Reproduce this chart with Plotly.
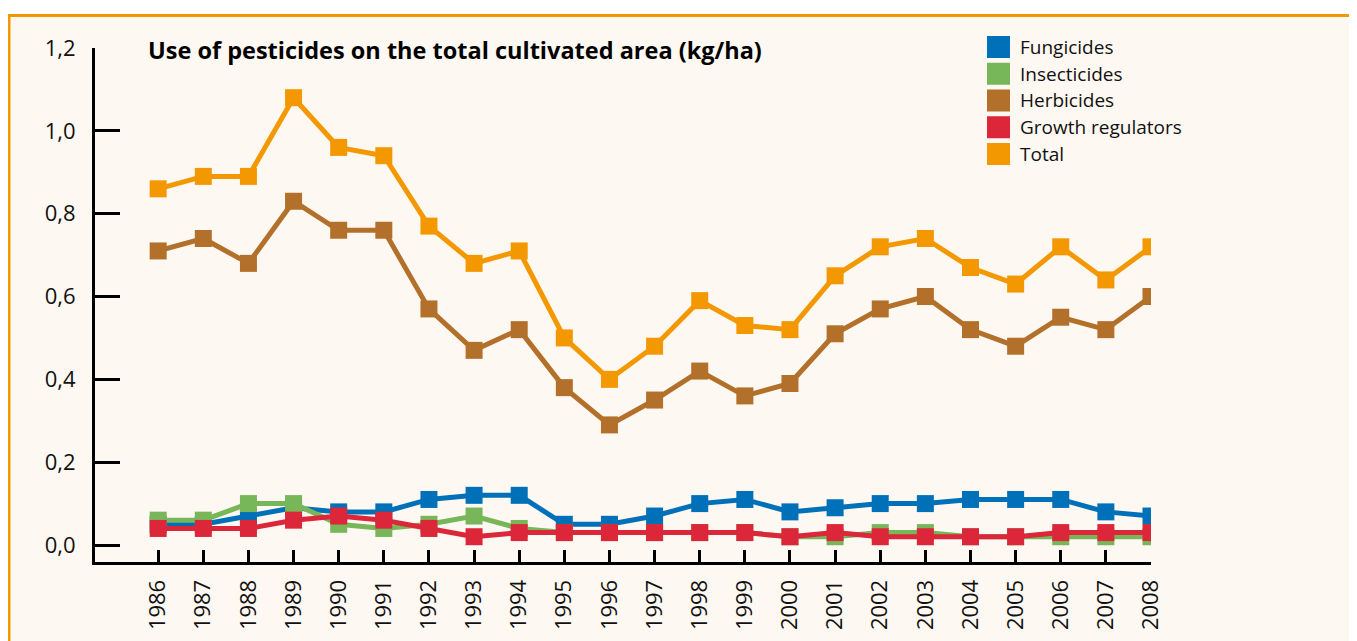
import plotly.graph_objects as go

years = list(range(1986, 2009))
year_labels = [str(y) for y in years]

fungicides = [0.05, 0.05, 0.07, 0.09, 0.08, 0.08, 0.11, 0.12, 0.12, 0.05, 0.05, 0.07,
              0.10, 0.11, 0.08, 0.09, 0.10, 0.10, 0.11, 0.11, 0.11, 0.08, 0.07]
insecticides = [0.06, 0.06, 0.10, 0.10, 0.05, 0.04, 0.05, 0.07, 0.04, 0.03, 0.03, 0.03,
                0.03, 0.03, 0.02, 0.02, 0.03, 0.03, 0.02, 0.02, 0.02, 0.02, 0.02]
herbicides = [0.71, 0.74, 0.68, 0.83, 0.76, 0.76, 0.57, 0.47, 0.52, 0.38, 0.29, 0.35,
              0.42, 0.36, 0.39, 0.51, 0.57, 0.60, 0.52, 0.48, 0.55, 0.52, 0.60]
growth_regulators = [0.04, 0.04, 0.04, 0.06, 0.07, 0.06, 0.04, 0.02, 0.03, 0.03, 0.03, 0.03,
                     0.03, 0.03, 0.02, 0.03, 0.02, 0.02, 0.02, 0.02, 0.03, 0.03, 0.03]
total = [0.86, 0.89, 0.89, 1.08, 0.96, 0.94, 0.77, 0.68, 0.71, 0.50, 0.40, 0.48,
         0.59, 0.53, 0.52, 0.65, 0.72, 0.74, 0.67, 0.63, 0.72, 0.64, 0.72]

series_names = ["Fungicides", "Insecticides", "Herbicides", "Growth regulators", "Total"]
series_values = [fungicides, insecticides, herbicides, growth_regulators, total]
series_colors = ["#0071b8", "#78b65a", "#b3702b", "#dc2639", "#f39800"]

y_ticks = [0.0, 0.2, 0.4, 0.6, 0.8, 1.0, 1.2]
title_text = "Use of pesticides on the total cultivated area (kg/ha)"

W, H = 1357, 641
OFF = 8  # page body margin offset
L, R, T, B = 95 - OFF, 1151 - OFF, 48 - OFF, 562 - OFF
FONT = "Open Sans"

def px_x(p):
    return (p - OFF - L) / (R - L)

def px_y(p):
    return (B - (p - OFF)) / (B - T)

fig = go.Figure()
for name, vals, col in zip(series_names, series_values, series_colors):
    fig.add_trace(go.Scatter(
        x=years, y=vals, name=name, mode="lines+markers",
        line=dict(color=col, width=5),
        marker=dict(symbol="square", size=17, color=col),
        showlegend=False,
    ))

shapes = [dict(type="rect", xref="paper", yref="paper",
               x0=px_x(9), x1=px_x(1380), y0=px_y(700), y1=px_y(15.5),
               fillcolor="#fef8f2", line=dict(color="#f39800", width=3), layer="below")]
annotations = [dict(text="<b>" + title_text + "</b>", xref="paper", yref="paper",
                    x=px_x(146), y=px_y(50), xanchor="left", yanchor="middle",
                    showarrow=False,
                    font=dict(family=FONT, size=23.5, color="#000", weight=800))]

for i, (name, col) in enumerate(zip(series_names, series_colors)):
    cy = 47 + i * 26.75
    shapes.append(dict(type="rect", xref="paper", yref="paper",
                       x0=px_x(987), x1=px_x(1010), y0=px_y(cy + 11), y1=px_y(cy - 11),
                       fillcolor=col, line=dict(width=0)))
    annotations.append(dict(text=name, xref="paper", yref="paper",
                            x=px_x(1018), y=px_y(cy), xanchor="left", yanchor="middle",
                            showarrow=False, font=dict(family=FONT, size=19, color="#111")))

fig.update_layout(
    width=W, height=H,
    margin=dict(l=L, r=W - R, t=T, b=H - B, pad=0),
    paper_bgcolor="white", plot_bgcolor="rgba(0,0,0,0)",
    separators=",.",
    font=dict(family=FONT, color="#111"),
    shapes=shapes, annotations=annotations,
    showlegend=False,
    xaxis=dict(range=[1984.6, 2008], tickmode="array", tickvals=years, ticktext=year_labels,
               tickangle=-90, ticks="inside", ticklen=12, tickwidth=3, tickcolor="#000",
               showline=True, linewidth=3, linecolor="#000", showgrid=False, zeroline=False,
               tickfont=dict(family=FONT, size=22, color="#111"), ticklabelstandoff=6),
    yaxis=dict(range=[-0.041, 1.2], tickmode="array", tickvals=y_ticks, tickformat=".1f",
               ticks="inside", ticklen=25, tickwidth=3, tickcolor="#000",
               showline=True, linewidth=3, linecolor="#000", showgrid=False, zeroline=False,
               tickfont=dict(family=FONT, size=22, color="#111"), ticklabelstandoff=12),
)

fig.write_html("out.html")
